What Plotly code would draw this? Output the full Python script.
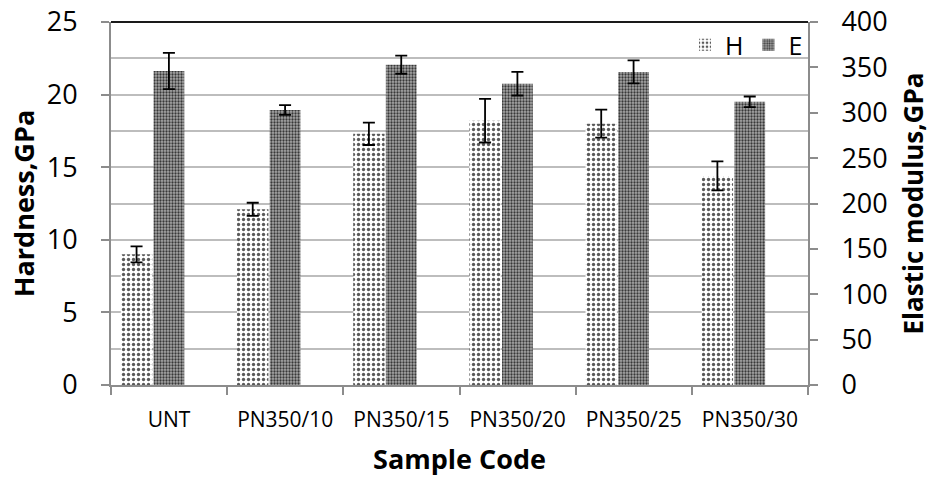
import plotly.graph_objects as go

# Sample codes along the category axis
categories = ["UNT", "PN350/10", "PN350/15", "PN350/20", "PN350/25", "PN350/30"]

# Hardness (GPa) with standard deviations
hardness = [9.0, 12.1, 17.3, 18.2, 18.0, 14.4]
hardness_err = [0.55, 0.45, 0.77, 1.5, 0.97, 1.0]

# Elastic modulus (GPa) with standard deviations
modulus = [346, 303, 353, 332, 345, 312]
modulus_err = [20, 5.3, 10, 13, 12.7, 5.9]

FONT = "Open Sans"
AXIS_GREY = "#8c8c8c"
GRID_GREY = "#bdbdbd"

fig = go.Figure()

fig.add_trace(go.Bar(
    x=categories, y=hardness, name="H",
    width=0.27, offset=-0.415,
    marker=dict(
        color="white",
        line=dict(width=0),
        pattern=dict(shape=".", fgcolor="#5a5a5a", bgcolor="white",
                     size=5, solidity=0.35, fillmode="replace"),
    ),
    error_y=dict(type="data", array=hardness_err, visible=True,
                 color="black", thickness=1.8, width=6),
    yaxis="y",
))

fig.add_trace(go.Bar(
    x=categories, y=modulus, name="E",
    width=0.265, offset=-0.134,
    marker=dict(
        color="#a0a0a0",
        line=dict(width=0),
        pattern=dict(shape=".", fgcolor="#383838", bgcolor="#a8a8a8",
                     size=3, solidity=0.45, fillmode="replace"),
    ),
    error_y=dict(type="data", array=modulus_err, visible=True,
                 color="black", thickness=1.8, width=6),
    yaxis="y2",
))

fig.update_layout(
    width=936, height=479,
    margin=dict(l=111, r=128, t=22, b=94, autoexpand=False),
    paper_bgcolor="white", plot_bgcolor="white",
    font=dict(family=FONT, color="black"),
    showlegend=True,
    legend=dict(
        orientation="h", x=1.0, xanchor="right", y=1.0, yanchor="top",
        font=dict(family=FONT, size=25, color="black"),
        bgcolor="rgba(255,255,255,0)", itemwidth=30,
    ),
    xaxis=dict(
        type="category", range=[-0.5, 5.5], automargin=False,
        showline=True, linecolor=AXIS_GREY, linewidth=2,
        ticks="outside", tickson="boundaries", ticklen=8,
        tickcolor=AXIS_GREY, tickwidth=1.5,
        tickfont=dict(family=FONT, size=21, color="black"),
        ticklabelstandoff=15,
        showgrid=False, zeroline=False,
        title=dict(text="<b>Sample Code</b>", font=dict(family=FONT, size=27),
                   standoff=18),
    ),
    yaxis=dict(
        range=[0, 25], tick0=0, dtick=5, automargin=False,
        showline=True, linecolor=AXIS_GREY, linewidth=2,
        ticks="outside", ticklen=8, tickcolor=AXIS_GREY, tickwidth=1.5,
        tickfont=dict(family=FONT, size=27, color="black"),
        ticklabelstandoff=18,
        showgrid=True, gridcolor=GRID_GREY, gridwidth=1.5,
        minor=dict(dtick=2.5, showgrid=True, gridcolor=GRID_GREY, gridwidth=1.5),
        zeroline=False,
        title=dict(text="<b>Hardness,GPa</b>", font=dict(family=FONT, size=27),
                   standoff=4),
    ),
    yaxis2=dict(
        range=[0, 400], tick0=0, dtick=50, automargin=False,
        overlaying="y", side="right",
        showline=True, linecolor=AXIS_GREY, linewidth=2,
        ticks="outside", ticklen=8, tickcolor=AXIS_GREY, tickwidth=1.5,
        tickfont=dict(family=FONT, size=27, color="black"),
        ticklabelstandoff=18,
        showgrid=False, zeroline=False,
        title=dict(text="<b>Elastic modulus,GPa</b>", font=dict(family=FONT, size=26),
                   standoff=18),
    ),
    shapes=[
        dict(type="line", xref="paper", yref="paper", x0=0, x1=1, y0=1, y1=1,
             line=dict(color="#1a1a1a", width=2)),
    ],
)

fig.write_html("out.html")
